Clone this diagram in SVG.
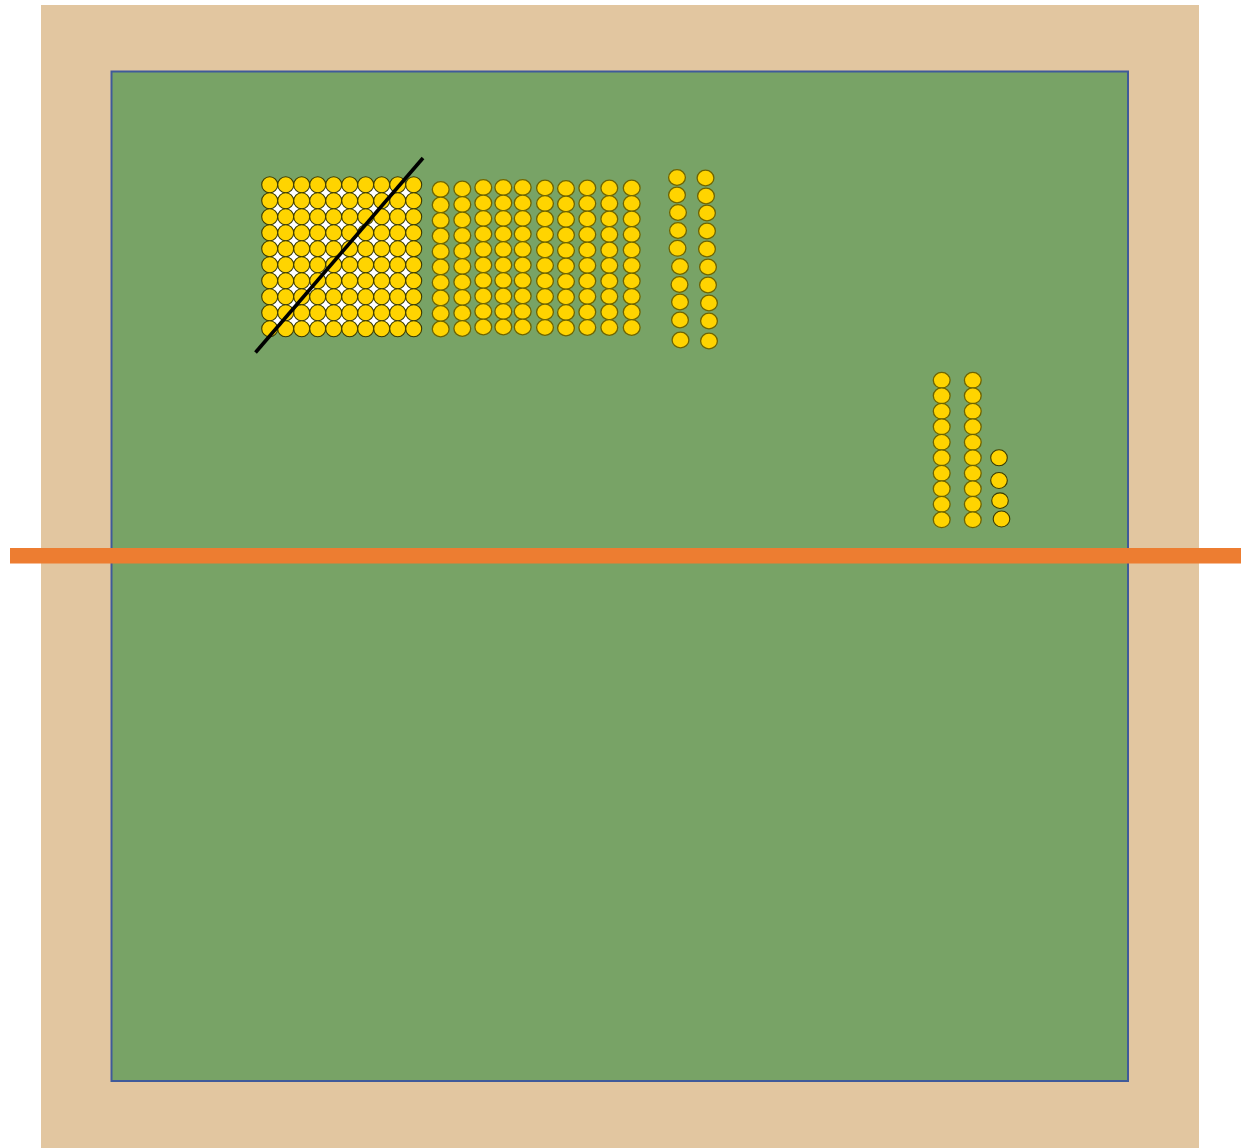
<svg xmlns="http://www.w3.org/2000/svg" xmlns:xlink="http://www.w3.org/1999/xlink" width="1241" height="1148" viewBox="0 0 1241 1148">
<style>
.b{fill:#FFD400;stroke:#6E6400;stroke-width:1.3}
.h{fill:#FFD400;stroke:#3A3A00;stroke-width:1.1}
</style>
<defs>
<ellipse id="e" class="b" cx="0" cy="0" rx="8.4" ry="7.9"/>
<circle id="c" class="h" cx="0" cy="0" r="8"/>
</defs>
<rect id="frame" x="41" y="5" width="1158" height="1143" fill="#E2C6A0"/>
<rect id="board" x="111.5" y="71.5" width="1016.5" height="1009.5" fill="#78A366" stroke="#3F5A9A" stroke-width="2"/>
<g id="hundred-square">
<rect x="269.7" y="184.7" width="144" height="144" fill="#FFFFFF"/>
<g id="hs-beads">
<use xlink:href="#c" x="269.7" y="184.7"/><use xlink:href="#c" x="285.7" y="184.7"/><use xlink:href="#c" x="301.7" y="184.7"/><use xlink:href="#c" x="317.7" y="184.7"/><use xlink:href="#c" x="333.7" y="184.7"/><use xlink:href="#c" x="349.7" y="184.7"/><use xlink:href="#c" x="365.7" y="184.7"/><use xlink:href="#c" x="381.7" y="184.7"/><use xlink:href="#c" x="397.7" y="184.7"/><use xlink:href="#c" x="413.7" y="184.7"/>
<use xlink:href="#c" x="269.7" y="200.7"/><use xlink:href="#c" x="285.7" y="200.7"/><use xlink:href="#c" x="301.7" y="200.7"/><use xlink:href="#c" x="317.7" y="200.7"/><use xlink:href="#c" x="333.7" y="200.7"/><use xlink:href="#c" x="349.7" y="200.7"/><use xlink:href="#c" x="365.7" y="200.7"/><use xlink:href="#c" x="381.7" y="200.7"/><use xlink:href="#c" x="397.7" y="200.7"/><use xlink:href="#c" x="413.7" y="200.7"/>
<use xlink:href="#c" x="269.7" y="216.7"/><use xlink:href="#c" x="285.7" y="216.7"/><use xlink:href="#c" x="301.7" y="216.7"/><use xlink:href="#c" x="317.7" y="216.7"/><use xlink:href="#c" x="333.7" y="216.7"/><use xlink:href="#c" x="349.7" y="216.7"/><use xlink:href="#c" x="365.7" y="216.7"/><use xlink:href="#c" x="381.7" y="216.7"/><use xlink:href="#c" x="397.7" y="216.7"/><use xlink:href="#c" x="413.7" y="216.7"/>
<use xlink:href="#c" x="269.7" y="232.7"/><use xlink:href="#c" x="285.7" y="232.7"/><use xlink:href="#c" x="301.7" y="232.7"/><use xlink:href="#c" x="317.7" y="232.7"/><use xlink:href="#c" x="333.7" y="232.7"/><use xlink:href="#c" x="349.7" y="232.7"/><use xlink:href="#c" x="365.7" y="232.7"/><use xlink:href="#c" x="381.7" y="232.7"/><use xlink:href="#c" x="397.7" y="232.7"/><use xlink:href="#c" x="413.7" y="232.7"/>
<use xlink:href="#c" x="269.7" y="248.7"/><use xlink:href="#c" x="285.7" y="248.7"/><use xlink:href="#c" x="301.7" y="248.7"/><use xlink:href="#c" x="317.7" y="248.7"/><use xlink:href="#c" x="333.7" y="248.7"/><use xlink:href="#c" x="349.7" y="248.7"/><use xlink:href="#c" x="365.7" y="248.7"/><use xlink:href="#c" x="381.7" y="248.7"/><use xlink:href="#c" x="397.7" y="248.7"/><use xlink:href="#c" x="413.7" y="248.7"/>
<use xlink:href="#c" x="269.7" y="264.7"/><use xlink:href="#c" x="285.7" y="264.7"/><use xlink:href="#c" x="301.7" y="264.7"/><use xlink:href="#c" x="317.7" y="264.7"/><use xlink:href="#c" x="333.7" y="264.7"/><use xlink:href="#c" x="349.7" y="264.7"/><use xlink:href="#c" x="365.7" y="264.7"/><use xlink:href="#c" x="381.7" y="264.7"/><use xlink:href="#c" x="397.7" y="264.7"/><use xlink:href="#c" x="413.7" y="264.7"/>
<use xlink:href="#c" x="269.7" y="280.7"/><use xlink:href="#c" x="285.7" y="280.7"/><use xlink:href="#c" x="301.7" y="280.7"/><use xlink:href="#c" x="317.7" y="280.7"/><use xlink:href="#c" x="333.7" y="280.7"/><use xlink:href="#c" x="349.7" y="280.7"/><use xlink:href="#c" x="365.7" y="280.7"/><use xlink:href="#c" x="381.7" y="280.7"/><use xlink:href="#c" x="397.7" y="280.7"/><use xlink:href="#c" x="413.7" y="280.7"/>
<use xlink:href="#c" x="269.7" y="296.7"/><use xlink:href="#c" x="285.7" y="296.7"/><use xlink:href="#c" x="301.7" y="296.7"/><use xlink:href="#c" x="317.7" y="296.7"/><use xlink:href="#c" x="333.7" y="296.7"/><use xlink:href="#c" x="349.7" y="296.7"/><use xlink:href="#c" x="365.7" y="296.7"/><use xlink:href="#c" x="381.7" y="296.7"/><use xlink:href="#c" x="397.7" y="296.7"/><use xlink:href="#c" x="413.7" y="296.7"/>
<use xlink:href="#c" x="269.7" y="312.7"/><use xlink:href="#c" x="285.7" y="312.7"/><use xlink:href="#c" x="301.7" y="312.7"/><use xlink:href="#c" x="317.7" y="312.7"/><use xlink:href="#c" x="333.7" y="312.7"/><use xlink:href="#c" x="349.7" y="312.7"/><use xlink:href="#c" x="365.7" y="312.7"/><use xlink:href="#c" x="381.7" y="312.7"/><use xlink:href="#c" x="397.7" y="312.7"/><use xlink:href="#c" x="413.7" y="312.7"/>
<use xlink:href="#c" x="269.7" y="328.7"/><use xlink:href="#c" x="285.7" y="328.7"/><use xlink:href="#c" x="301.7" y="328.7"/><use xlink:href="#c" x="317.7" y="328.7"/><use xlink:href="#c" x="333.7" y="328.7"/><use xlink:href="#c" x="349.7" y="328.7"/><use xlink:href="#c" x="365.7" y="328.7"/><use xlink:href="#c" x="381.7" y="328.7"/><use xlink:href="#c" x="397.7" y="328.7"/><use xlink:href="#c" x="413.7" y="328.7"/>
</g>
<line x1="255.5" y1="352.5" x2="423" y2="158" stroke="#000000" stroke-width="3.6"/>
</g>
<g id="ten-bars">
<g transform="translate(440.7,189.5)"><use xlink:href="#e" y="0"/><use xlink:href="#e" y="15.5"/><use xlink:href="#e" y="31"/><use xlink:href="#e" y="46.5"/><use xlink:href="#e" y="62"/><use xlink:href="#e" y="77.5"/><use xlink:href="#e" y="93"/><use xlink:href="#e" y="108.5"/><use xlink:href="#e" y="124"/><use xlink:href="#e" y="139.5"/></g>
<g transform="translate(462.3,189)"><use xlink:href="#e" y="0"/><use xlink:href="#e" y="15.5"/><use xlink:href="#e" y="31"/><use xlink:href="#e" y="46.5"/><use xlink:href="#e" y="62"/><use xlink:href="#e" y="77.5"/><use xlink:href="#e" y="93"/><use xlink:href="#e" y="108.5"/><use xlink:href="#e" y="124"/><use xlink:href="#e" y="139.5"/></g>
<g transform="translate(483.3,187.5)"><use xlink:href="#e" y="0"/><use xlink:href="#e" y="15.5"/><use xlink:href="#e" y="31"/><use xlink:href="#e" y="46.5"/><use xlink:href="#e" y="62"/><use xlink:href="#e" y="77.5"/><use xlink:href="#e" y="93"/><use xlink:href="#e" y="108.5"/><use xlink:href="#e" y="124"/><use xlink:href="#e" y="139.5"/></g>
<g transform="translate(503.3,187.5)"><use xlink:href="#e" y="0"/><use xlink:href="#e" y="15.5"/><use xlink:href="#e" y="31"/><use xlink:href="#e" y="46.5"/><use xlink:href="#e" y="62"/><use xlink:href="#e" y="77.5"/><use xlink:href="#e" y="93"/><use xlink:href="#e" y="108.5"/><use xlink:href="#e" y="124"/><use xlink:href="#e" y="139.5"/></g>
<g transform="translate(522.7,187.5)"><use xlink:href="#e" y="0"/><use xlink:href="#e" y="15.5"/><use xlink:href="#e" y="31"/><use xlink:href="#e" y="46.5"/><use xlink:href="#e" y="62"/><use xlink:href="#e" y="77.5"/><use xlink:href="#e" y="93"/><use xlink:href="#e" y="108.5"/><use xlink:href="#e" y="124"/><use xlink:href="#e" y="139.5"/></g>
<g transform="translate(545,188)"><use xlink:href="#e" y="0"/><use xlink:href="#e" y="15.5"/><use xlink:href="#e" y="31"/><use xlink:href="#e" y="46.5"/><use xlink:href="#e" y="62"/><use xlink:href="#e" y="77.5"/><use xlink:href="#e" y="93"/><use xlink:href="#e" y="108.5"/><use xlink:href="#e" y="124"/><use xlink:href="#e" y="139.5"/></g>
<g transform="translate(566,188.5)"><use xlink:href="#e" y="0"/><use xlink:href="#e" y="15.5"/><use xlink:href="#e" y="31"/><use xlink:href="#e" y="46.5"/><use xlink:href="#e" y="62"/><use xlink:href="#e" y="77.5"/><use xlink:href="#e" y="93"/><use xlink:href="#e" y="108.5"/><use xlink:href="#e" y="124"/><use xlink:href="#e" y="139.5"/></g>
<g transform="translate(587.3,188)"><use xlink:href="#e" y="0"/><use xlink:href="#e" y="15.5"/><use xlink:href="#e" y="31"/><use xlink:href="#e" y="46.5"/><use xlink:href="#e" y="62"/><use xlink:href="#e" y="77.5"/><use xlink:href="#e" y="93"/><use xlink:href="#e" y="108.5"/><use xlink:href="#e" y="124"/><use xlink:href="#e" y="139.5"/></g>
<g transform="translate(609.3,188)"><use xlink:href="#e" y="0"/><use xlink:href="#e" y="15.5"/><use xlink:href="#e" y="31"/><use xlink:href="#e" y="46.5"/><use xlink:href="#e" y="62"/><use xlink:href="#e" y="77.5"/><use xlink:href="#e" y="93"/><use xlink:href="#e" y="108.5"/><use xlink:href="#e" y="124"/><use xlink:href="#e" y="139.5"/></g>
<g transform="translate(631.7,188)"><use xlink:href="#e" y="0"/><use xlink:href="#e" y="15.5"/><use xlink:href="#e" y="31"/><use xlink:href="#e" y="46.5"/><use xlink:href="#e" y="62"/><use xlink:href="#e" y="77.5"/><use xlink:href="#e" y="93"/><use xlink:href="#e" y="108.5"/><use xlink:href="#e" y="124"/><use xlink:href="#e" y="139.5"/></g>
</g>
<g id="loose-strings">
<use xlink:href="#e" x="677" y="177.5"/><use xlink:href="#e" x="677" y="195"/><use xlink:href="#e" x="678" y="212.5"/><use xlink:href="#e" x="678" y="230.5"/><use xlink:href="#e" x="677.5" y="248.3"/><use xlink:href="#e" x="680" y="266.5"/><use xlink:href="#e" x="679.5" y="284.5"/><use xlink:href="#e" x="680" y="302"/><use xlink:href="#e" x="680" y="320"/><use xlink:href="#e" x="680.5" y="340"/>
<use xlink:href="#e" x="705.5" y="178"/><use xlink:href="#e" x="706" y="196"/><use xlink:href="#e" x="707" y="213"/><use xlink:href="#e" x="707" y="231"/><use xlink:href="#e" x="707" y="249"/><use xlink:href="#e" x="708" y="267"/><use xlink:href="#e" x="708" y="285"/><use xlink:href="#e" x="709" y="303"/><use xlink:href="#e" x="709" y="321"/><use xlink:href="#e" x="709" y="341"/>
</g>
<g id="answer-strings">
<g transform="translate(941.7,380.3)"><use xlink:href="#e" y="0"/><use xlink:href="#e" y="15.5"/><use xlink:href="#e" y="31"/><use xlink:href="#e" y="46.5"/><use xlink:href="#e" y="62"/><use xlink:href="#e" y="77.5"/><use xlink:href="#e" y="93"/><use xlink:href="#e" y="108.5"/><use xlink:href="#e" y="124"/><use xlink:href="#e" y="139.5"/></g>
<g transform="translate(972.8,380.3)"><use xlink:href="#e" y="0"/><use xlink:href="#e" y="15.5"/><use xlink:href="#e" y="31"/><use xlink:href="#e" y="46.5"/><use xlink:href="#e" y="62"/><use xlink:href="#e" y="77.5"/><use xlink:href="#e" y="93"/><use xlink:href="#e" y="108.5"/><use xlink:href="#e" y="124"/><use xlink:href="#e" y="139.5"/></g>
<ellipse class="h" cx="999" cy="457.7" rx="8.3" ry="8"/>
<ellipse class="h" cx="999" cy="480.5" rx="8.3" ry="8"/>
<ellipse class="h" cx="1000" cy="500.7" rx="8.3" ry="7.8"/>
<ellipse class="h" cx="1001.5" cy="519" rx="8.3" ry="8"/>
</g>
<rect id="divider" x="10" y="548" width="1231" height="15.5" fill="#ED7D31"/>
</svg>
